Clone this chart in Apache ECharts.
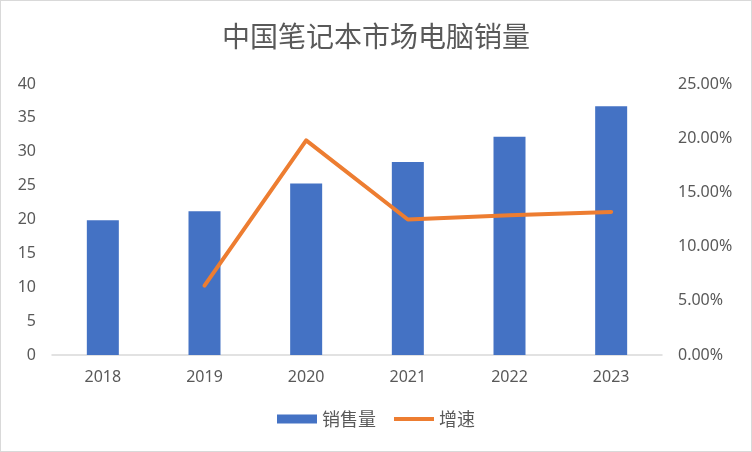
<!DOCTYPE html>
<html>
<head>
<meta charset="utf-8">
<script src="https://cdn.jsdelivr.net/npm/echarts@6/dist/echarts.min.js"></script>
<style>
  html, body { margin: 0; padding: 0; background: #fff; }
  #chart { width: 750px; height: 450px; border: 1px solid #d9d9d9; }
</style>
</head>
<body>
<div id="chart"></div>
<script>
const years = ['2018', '2019', '2020', '2021', '2022', '2023'];
const sales = [19.9, 21.2, 25.3, 28.5, 32.2, 36.7];
const growth = [null, 0.064, 0.198, 0.125, 0.129, 0.132];

const textColor = '#595959';
const fontFamily = '"Noto Sans", "Noto Sans CJK SC", sans-serif';

const chart = echarts.init(document.getElementById('chart'));

const option = {
  animation: false,
  textStyle: { fontFamily: fontFamily },
  title: {
    text: '中国笔记本市场电脑销量',
    left: 'center',
    top: 16,
    textStyle: { fontSize: 28, fontWeight: 'normal', color: textColor, fontFamily: '"Noto Sans CJK SC", sans-serif' },
  },
  legend: {
    bottom: 18,
    left: 'center',
    itemWidth: 40,
    itemHeight: 9,
    itemGap: 18,
    textStyle: { fontSize: 18, color: textColor, fontFamily: '"Noto Sans CJK SC", sans-serif' },
    data: [
      { name: '销售量', icon: 'rect' },
      { name: '增速', icon: 'path://M0,0 L40,0 L40,4 L0,4 Z' },
    ],
  },
  grid: { left: 51, right: 89, top: 83, bottom: 96 },
  xAxis: {
    type: 'category',
    data: years,
    axisLine: { lineStyle: { color: '#d9d9d9', width: 1.5 } },
    axisTick: { show: false },
    axisLabel: { fontSize: 16, color: textColor, margin: 14 },
  },
  yAxis: [
    {
      type: 'value',
      min: 0,
      max: 40,
      interval: 5,
      splitLine: { show: false },
      axisLine: { show: false },
      axisTick: { show: false },
      axisLabel: { fontSize: 16, color: textColor, margin: 16 },
    },
    {
      type: 'value',
      min: 0,
      max: 0.25,
      interval: 0.05,
      splitLine: { show: false },
      axisLine: { show: false },
      axisTick: { show: false },
      axisLabel: {
        fontSize: 16,
        color: textColor,
        margin: 16,
        formatter: (v) => (v * 100).toFixed(2) + '%',
      },
    },
  ],
  series: [
    {
      name: '销售量',
      type: 'bar',
      data: sales,
      barWidth: 32,
      itemStyle: { color: '#4472C4' },
    },
    {
      name: '增速',
      type: 'line',
      yAxisIndex: 1,
      data: growth,
      showSymbol: false,
      symbol: 'none',
      lineStyle: { color: '#ED7D31', width: 4, cap: 'round', join: 'round' },
      itemStyle: { color: '#ED7D31' },
    },
  ],
};

chart.setOption(option);
</script>
</body>
</html>
